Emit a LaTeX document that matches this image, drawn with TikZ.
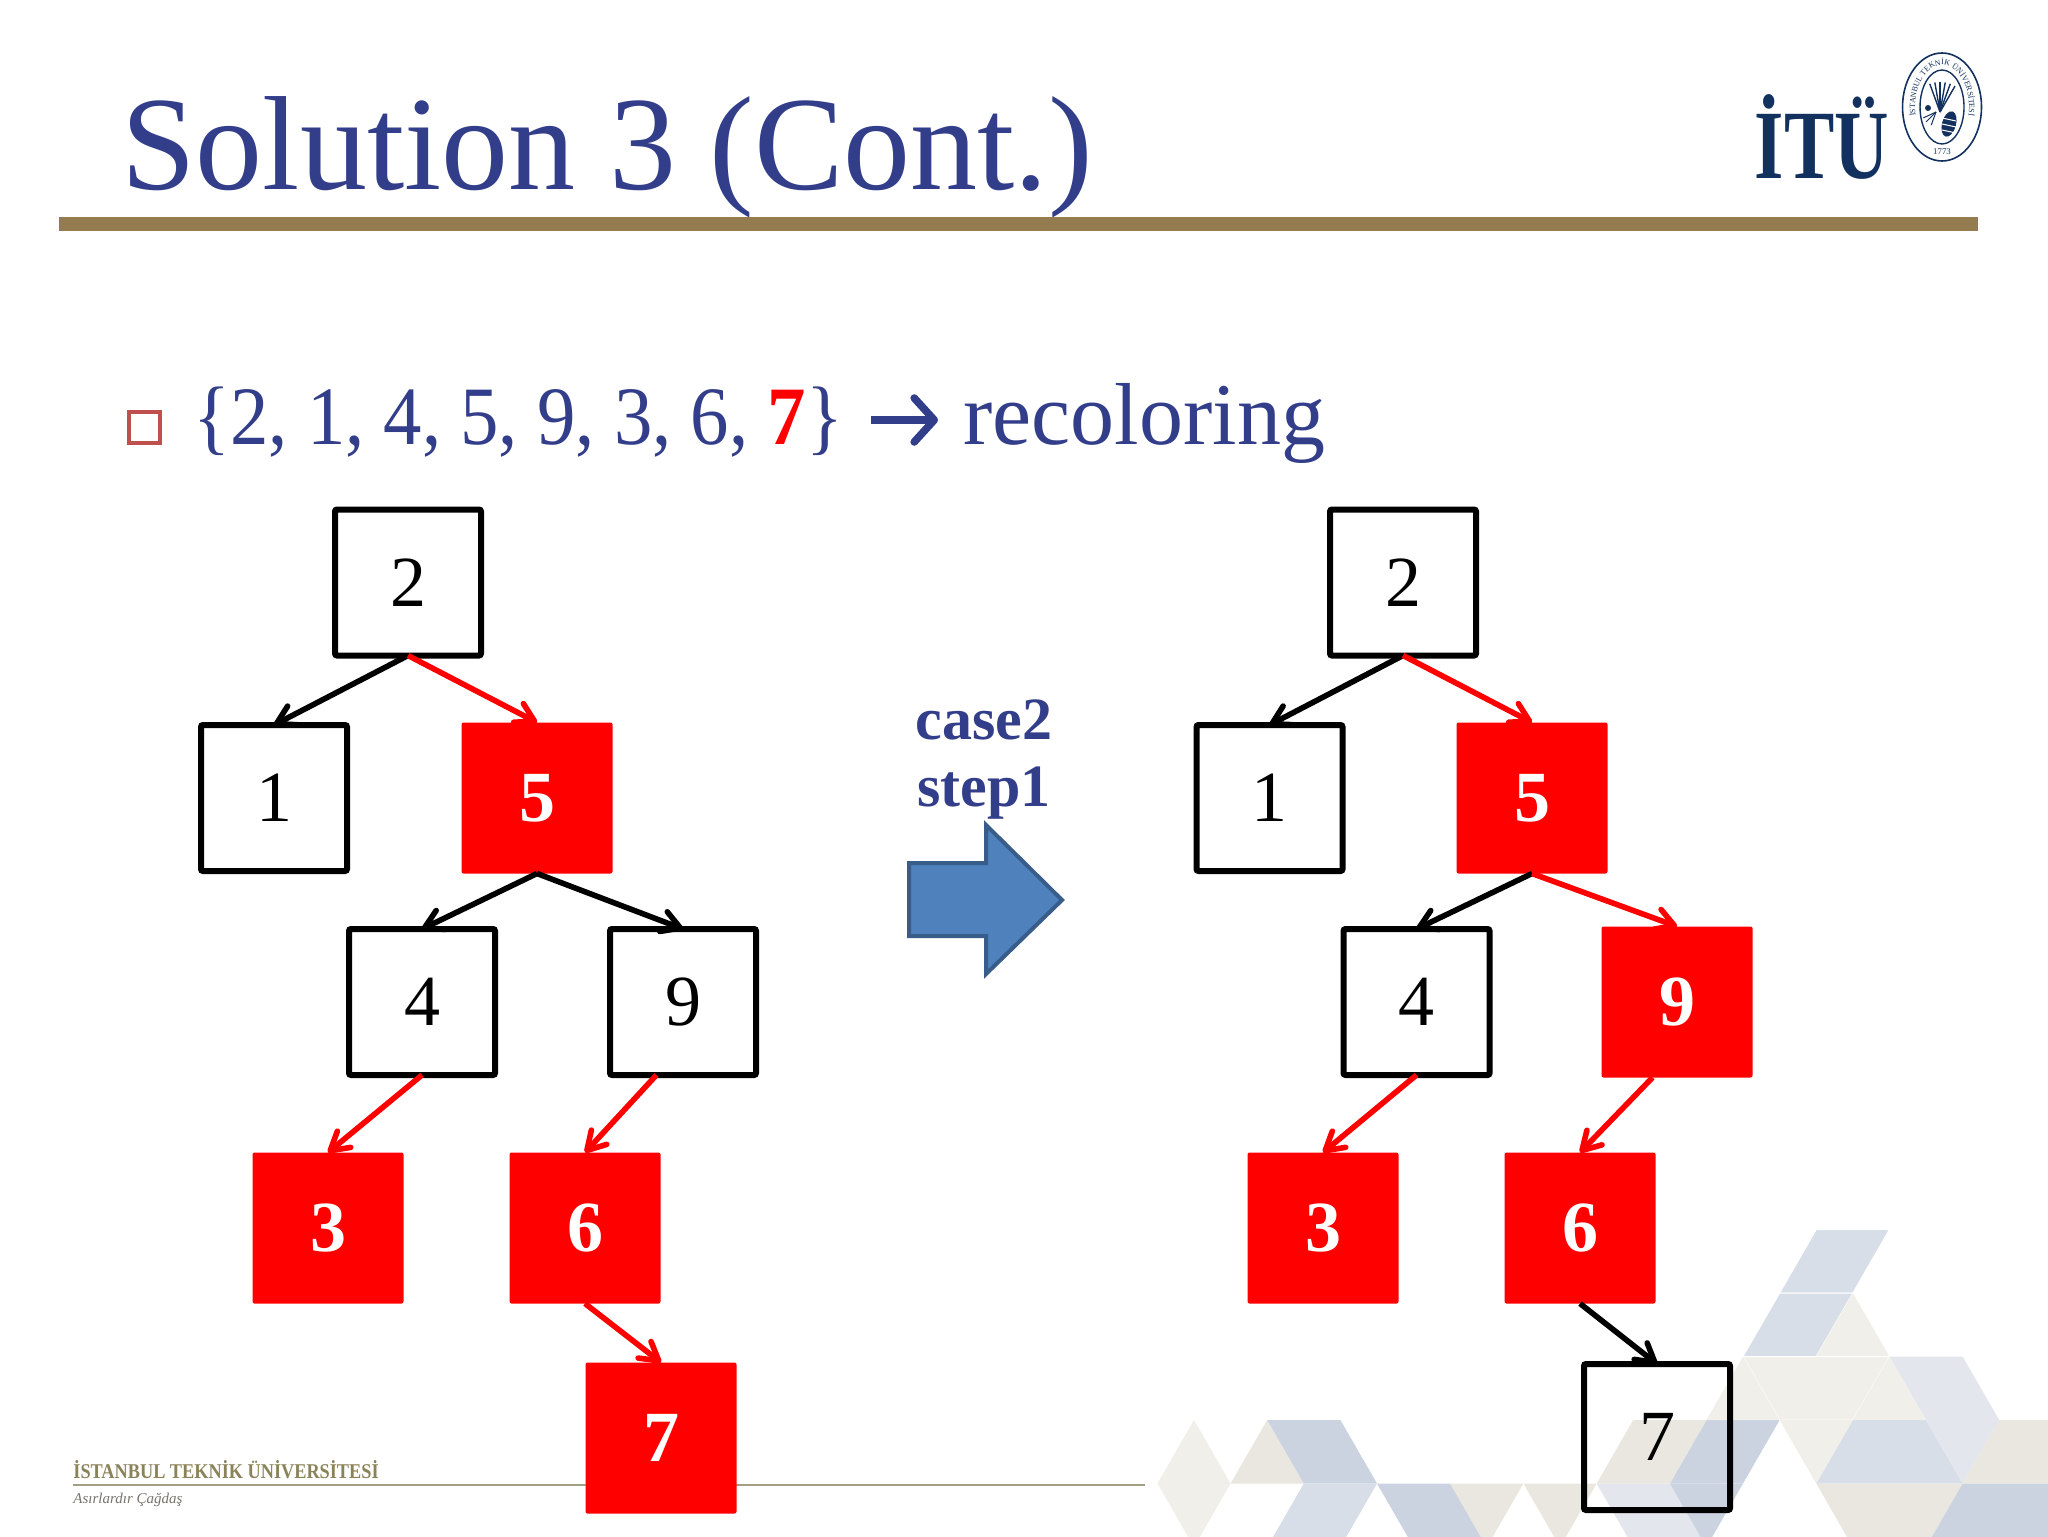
\documentclass[tikz,border=0pt]{standalone}
\usepackage{fontspec}
\setmainfont{Liberation Serif}
\usetikzlibrary{arrows.meta,decorations.text}

\definecolor{slideblue}{HTML}{333E8A}
\definecolor{rulebrown}{HTML}{947C50}
\definecolor{itunavy}{HTML}{12315F}
\definecolor{footline}{HTML}{A39F85}
\definecolor{footgold}{HTML}{8A8258}
\definecolor{footgrey}{HTML}{77736A}
\definecolor{hexblue}{HTML}{CBD3E0}
\definecolor{hexpale}{HTML}{D8DEE7}
\definecolor{hexlav}{HTML}{E3E6EC}
\definecolor{hexsand}{HTML}{E9E7DF}
\definecolor{hexcream}{HTML}{F1EFEA}
\definecolor{arrowfill}{HTML}{4F81BD}
\definecolor{arrowline}{HTML}{385D8A}
\definecolor{bulletred}{HTML}{C0504D}

\tikzset{
  >={Straight Barb[length=9pt,width=10.5pt,round]},
  blacknode/.style={shape=rectangle,draw=black,line width=3pt,rounded corners=1pt,
    minimum size=73pt,inner sep=0pt,outer sep=0pt,font=\fontsize{36}{36}\selectfont},
  rednode/.style={shape=rectangle,fill=red,rounded corners=1pt,minimum size=75.5pt,
    inner sep=0pt,outer sep=0pt,text=white,font=\fontsize{36}{36}\selectfont\bfseries},
  blackedge/.style={draw=black,line width=2.8pt},
  rededge/.style={draw=red,line width=2.8pt},
  hexedge/.style={draw=white,line width=0.5pt},
}

\begin{document}
\begin{tikzpicture}[x=0.5pt,y=-0.5pt]
    \useasboundingbox (0,0) rectangle (2048,1536);

    % background pattern, one unit is a step of the lattice
    \begin{scope}[shift={(1194,1420)},x=18.3pt,y=-31.75pt]
    \clip (-2,-4) rectangle (23.34,1.835);
    \fill[hexpale,hexedge] (17,-3) -- (19,-3) -- (18,-2) -- (16,-2) -- cycle;
    \fill[hexpale,hexedge] (16,-2) -- (18,-2) -- (17,-1) -- (15,-1) -- cycle;
    \fill[hexcream] (18,-2) -- (19,-1) -- (17,-1) -- cycle;
    \fill[hexcream,hexedge] (15,-1) -- (19,-1) -- (18,0) -- (16,0) -- cycle;
    \fill[hexlav] (19,-1) -- (21,-1) -- (22,0) -- (20,0) -- cycle;
    \fill[hexcream] (19,-1) -- (20,0) -- (18,0) -- cycle;
    \fill[hexpale] (18,0) -- (20,0) -- (21,1) -- (17,1) -- cycle;
    \fill[hexlav] (20,0) -- (22,0) -- (21,1) -- cycle;
    \fill[hexsand] (22,0) -- (24,0) -- (24,1) -- (21,1) -- cycle;
    \fill[hexcream] (16,0) -- (18,0) -- (17,1) -- cycle;
    \fill[hexsand] (17,1) -- (21,1) -- (20,2) -- (18,2) -- cycle;
    \fill[hexblue] (21,1) -- (24,1) -- (24,2) -- (20,2) -- cycle;
    \fill[hexcream] (0,0) -- (1,1) -- (0,2) -- (-1,1) -- cycle;
    \fill[hexsand] (2,0) -- (3,1) -- (1,1) -- cycle;
    \fill[hexblue] (2,0) -- (4,0) -- (5,1) -- (3,1) -- cycle;
    \fill[hexpale] (3,1) -- (5,1) -- (4,2) -- (2,2) -- cycle;
    \fill[hexblue] (5,1) -- (7,1) -- (8,2) -- (6,2) -- cycle;
    \fill[hexsand] (7,1) -- (9,1) -- (8,2) -- cycle;
    \fill[hexsand] (9,1) -- (11,1) -- (10,2) -- cycle;
    \fill[hexlav] (11,1) -- (13,1) -- (14,2) -- (12,2) -- cycle;
    \fill[hexblue] (14,0) -- (16,0) -- (15,1) -- (13,1) -- cycle;
    \fill[hexsand] (12,0) -- (14,0) -- (13,1) -- (11,1) -- cycle;
    \fill[hexblue] (13,1) -- (15,1) -- (14,2) -- cycle;
    \fill[hexcream] (15,-1) -- (16,0) -- (14,0) -- cycle;
    \end{scope}

    % footer
    \node[anchor=base west,inner sep=0pt,text=footgold,font=\fontsize{10.5}{12}\selectfont\bfseries] (footname) at (73,1478) {\scalebox{0.87}[1]{İSTANBUL TEKNİK ÜNİVERSİTESİ}};
    \node[anchor=base west,inner sep=0pt,text=footgrey,font=\fontsize{7.5}{9}\selectfont\itshape] (footmotto) at (73,1503) {Asırlardır Çağdaş};
    \coordinate (footstart) at (73,1485);
    \coordinate (footend) at (1145,1485);
    \draw[footline,line width=1.4pt] (footstart) -- (footend);

    % title and logo
    \node[anchor=base west,inner sep=0pt,text=slideblue,font=\fontsize{67}{70}\selectfont] (title) at (121,189) {Solution 3 (Cont.)};
    \fill[rulebrown] (59,217) rectangle (1978,231);
    \node[anchor=base,inner sep=0pt,text=itunavy,font=\fontsize{49}{49}\selectfont\bfseries] (itu) at (1822,178) {\scalebox{0.77}[1]{İTÜ}};
    \draw[itunavy,line width=0.8pt] (1942,107) ellipse [x radius=19.75pt,y radius=27pt];
    \draw[itunavy,line width=0.7pt] (1942,107) ellipse [x radius=11pt,y radius=18.5pt];
    \path[decorate,decoration={text along path,text align=center,
      text={|\fontsize{4}{5}\selectfont\color{itunavy}|İSTANBUL TEKNİK ÜNİVERSİTESİ}}]
      (1919.9,131.1) arc [start angle=215,end angle=-35,x radius=13.5pt,y radius=21pt];
    \node[inner sep=0pt,text=itunavy,font=\fontsize{4.4}{5}\selectfont] (year) at (1942,152) {1773};
    % bee
    \foreach \ang in {60,70,...,110}
      \draw[itunavy,line width=0.7pt] (1940,112) -- ++(\ang:15pt);
    \foreach \ang in {205,225,250}
      \draw[itunavy,line width=0.5pt] (1936,112) -- ++(\ang:7pt);
    \fill[itunavy,rotate around={-15:(1949,124)}] (1949,124) ellipse [x radius=3.5pt,y radius=6.5pt];
    \foreach \yy in {118,124,130}
      \draw[white,line width=0.5pt] (1942,\yy) -- (1956,\yy+3);
    \fill[itunavy] (1928,108) circle [radius=1.5pt];

    % list line
    \node[shape=rectangle,draw=bulletred,line width=2pt,minimum size=15.5pt,inner sep=0pt] (bullet) at (144.5,427) {};
    \node[anchor=base west,inner sep=0pt,text=slideblue,font=\fontsize{41.5}{44}\selectfont] (setlabel) at (193,444) {\scalebox{0.925}[1]{\{2, 1, 4, 5, 9, 3, 6, {\color{red}\bfseries 7}\}}};
    \node[anchor=base west,inner sep=0pt,text=slideblue,font=\fontsize{44}{46}\selectfont] (recolor) at (963,444) {recoloring};
    \coordinate (listarrow) at (871,420);
    \coordinate (listtip) at (938,420);
    \path [-{Straight Barb[length=10pt,width=22pt,round]}] (listarrow) edge [draw=slideblue,line width=3.8pt] (listtip);

    % left tree
    \node[blacknode] (L2) at (408,582.5) {2};
    \node[blacknode] (L1) at (274,798) {1};
    \node[rednode] (L5) at (537,798) {5};
    \node[blacknode] (L4) at (422,1002) {4};
    \node[blacknode] (L9) at (683,1002) {9};
    \node[rednode] (L3) at (328,1228) {3};
    \node[rednode] (L6) at (585,1228) {6};
    \node[rednode] (L7) at (661,1438) {7};
    \path [->] (L2.south) edge [blackedge] (L1.north);
    \path [->] (L2.south) edge [rededge] (L5.north);
    \path [->] (L5.south) edge [blackedge] (L4.north);
    \path [->] (L5.south) edge [blackedge] (L9.north);
    \path [->] (L4.south) edge [rededge] (L3.north);
    \path [->] (L9.-110) edge [rededge] (L6.north);
    \path [->] (L6.south) edge [rededge] (L7.north);

    % middle arrow
    \node[align=center,inner sep=0pt,text=slideblue,font=\fontsize{30}{33.5}\selectfont\bfseries] (casetext) at (984,759.5) {case2\\step1};
    \draw[fill=arrowfill,draw=arrowline,line width=2pt]
      (909,863) -- (986,863) -- (986,825) -- (1062,900) -- (986,974) -- (986,936) -- (909,936) -- cycle;

    % right tree
    \node[blacknode] (R2) at (1403,582.5) {2};
    \node[blacknode] (R1) at (1269.5,798) {1};
    \node[rednode] (R5) at (1532,798) {5};
    \node[blacknode] (R4) at (1416.5,1002) {4};
    \node[rednode] (R9) at (1677,1002) {9};
    \node[rednode] (R3) at (1323,1228) {3};
    \node[rednode] (R6) at (1580,1228) {6};
    \node[blacknode] (R7) at (1657,1437) {7};
    \path [->] (R2.south) edge [blackedge] (R1.north);
    \path [->] (R2.south) edge [rededge] (R5.north);
    \path [->] (R5.south) edge [blackedge] (R4.north);
    \path [->] (R5.south) edge [rededge] (R9.north);
    \path [->] (R4.south) edge [rededge] (R3.north);
    \path [->] (R9.-108) edge [rededge] (R6.north);
    \path [->] (R6.south) edge [blackedge] (R7.north);
\end{tikzpicture}
\end{document}
